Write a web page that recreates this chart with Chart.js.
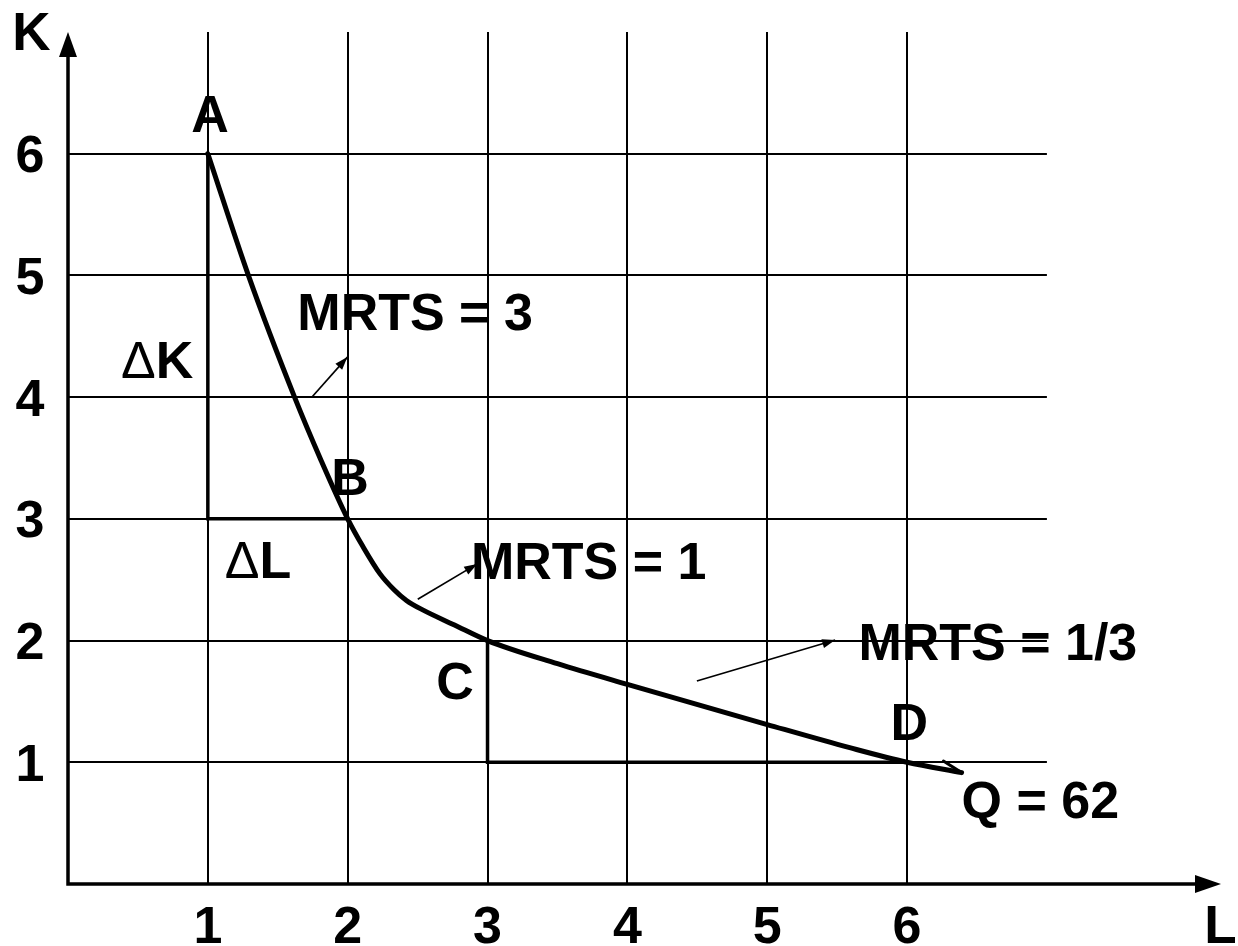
<!DOCTYPE html>
<html>
<head>
<meta charset="utf-8">
<script src="https://cdn.jsdelivr.net/npm/chart.js@4/dist/chart.umd.min.js"></script>
<style>
  html, body { margin: 0; padding: 0; background: #fff; }
</style>
</head>
<body>
<canvas id="grafica" width="1238" height="946"></canvas>
<script>
// Isoquant Q = 62 (L, K)
const curveL = [1, 1.29, 1.62, 1.81, 2, 2.11, 2.23, 2.33, 2.42, 2.54, 2.76, 3, 3.5, 4, 5, 5.59, 6, 6.39];
const curveK = [6, 5, 4.0, 3.48, 3, 2.77, 2.55, 2.42, 2.33, 2.25, 2.13, 2, 1.81, 1.64, 1.31, 1.12, 1, 0.915];

// little hook at the end of the curve
const hookL = [6.39, 6.26];
const hookK = [0.915, 1.01];

// delta K / delta L legs
const legsAB_L = [1, 1, 2];
const legsAB_K = [6, 3, 3];
const legsCD_L = [3, 3, 6];
const legsCD_K = [2, 1, 1];

// tick labels
const tickL = [1, 2, 3, 4, 5, 6];
const tickK = [1, 2, 3, 4, 5, 6];
const gridEndL = 7;
const gridEndK = 7;

// text labels on the chart
const labelTexts = ['A', 'B', 'C', 'D', 'MRTS = 3', 'MRTS = 1', 'MRTS = 1/3', 'Q = 62', 'ΔK', 'ΔL'];

// annotation placement (data coords: centre x, baseline y)
const labelAtL = [1.016, 2.017, 2.768, 6.016, 2.482, 3.723, 6.649, 6.953, 0.637, 1.359];
const labelAtK = [6.181, 3.197, 1.521, 1.184, 4.553, 2.507, 1.841, 0.542, 4.158, 2.515];

// small arrows pointing to the MRTS labels
const arrowFromL = [1.748, 2.501, 4.497];
const arrowFromK = [4.005, 2.34, 1.668];
const arrowToL = [1.998, 2.926, 5.486];
const arrowToK = [4.329, 2.63, 2.005];

const FONT = '"Liberation Sans", Arial, sans-serif';

function toPoints(xs, ys) {
    return xs.map((v, i) => ({ x: v, y: ys[i] }));
}

function arrowHead(ctx, x1, y1, x2, y2, len, half) {
    const a = Math.atan2(y2 - y1, x2 - x1);
    ctx.beginPath();
    ctx.moveTo(x2, y2);
    ctx.lineTo(x2 - len * Math.cos(a) + half * Math.sin(a), y2 - len * Math.sin(a) - half * Math.cos(a));
    ctx.lineTo(x2 - len * Math.cos(a) - half * Math.sin(a), y2 - len * Math.sin(a) + half * Math.cos(a));
    ctx.closePath();
    ctx.fill();
}

// draws a label, the Δ sign in normal weight
function drawLabel(ctx, text, cx, base) {
    ctx.textAlign = 'left';
    ctx.textBaseline = 'alphabetic';
    if (text.startsWith('Δ')) {
        ctx.font = '52px ' + FONT;
        const w1 = ctx.measureText('Δ').width;
        ctx.font = 'bold 52px ' + FONT;
        const w2 = ctx.measureText(text.slice(1)).width;
        let x = cx - (w1 + w2) / 2;
        ctx.font = '52px ' + FONT;
        ctx.fillText('Δ', x, base);
        ctx.font = 'bold 52px ' + FONT;
        ctx.fillText(text.slice(1), x + w1, base);
    } else {
        ctx.font = 'bold 52px ' + FONT;
        ctx.textAlign = 'center';
        ctx.fillText(text, cx, base);
    }
}

const isoquantPlugin = {
    id: 'isoquant',
    beforeDatasetsDraw(chart) {
        const ctx = chart.ctx;
        const sx = chart.scales.x;
        const sy = chart.scales.y;
        ctx.save();
        ctx.strokeStyle = '#000';
        ctx.lineWidth = 2;
        // vertical grid lines
        tickL.forEach(v => {
            const px = Math.round(sx.getPixelForValue(v));
            ctx.beginPath();
            ctx.moveTo(px, sy.getPixelForValue(0));
            ctx.lineTo(px, sy.getPixelForValue(gridEndK));
            ctx.stroke();
        });
        // horizontal grid lines
        tickK.forEach(v => {
            const py = Math.round(sy.getPixelForValue(v));
            ctx.beginPath();
            ctx.moveTo(sx.getPixelForValue(0), py);
            ctx.lineTo(sx.getPixelForValue(gridEndL), py);
            ctx.stroke();
        });
        ctx.restore();
    },
    afterDatasetsDraw(chart) {
        const ctx = chart.ctx;
        const sx = chart.scales.x;
        const sy = chart.scales.y;
        ctx.save();
        ctx.fillStyle = '#000';
        ctx.strokeStyle = '#000';

        // MRTS arrows
        ctx.lineWidth = 1.7;
        arrowFromL.forEach((v, i) => {
            const x1 = sx.getPixelForValue(v), y1 = sy.getPixelForValue(arrowFromK[i]);
            const x2 = sx.getPixelForValue(arrowToL[i]), y2 = sy.getPixelForValue(arrowToK[i]);
            ctx.beginPath();
            ctx.moveTo(x1, y1);
            ctx.lineTo(x2, y2);
            ctx.stroke();
            arrowHead(ctx, x1, y1, x2, y2, 13, 4.5);
        });

        // axes with arrows
        const x0 = sx.getPixelForValue(0), y0 = sy.getPixelForValue(0);
        const xEnd = sx.getPixelForValue(sx.max), yEnd = sy.getPixelForValue(sy.max);
        ctx.lineWidth = 3.5;
        ctx.beginPath();
        ctx.moveTo(x0, yEnd + 20);
        ctx.lineTo(x0, y0);
        ctx.lineTo(xEnd - 20, y0);
        ctx.stroke();
        arrowHead(ctx, x0, y0, x0, yEnd, 25, 9);
        arrowHead(ctx, x0, y0, xEnd, y0, 26, 9);

        // tick labels
        ctx.font = 'bold 52px ' + FONT;
        ctx.textAlign = 'center';
        ctx.textBaseline = 'alphabetic';
        tickL.forEach(v => ctx.fillText(String(v), sx.getPixelForValue(v), 943));
        tickK.forEach(v => ctx.fillText(String(v), 30, sy.getPixelForValue(v) + 18.5));

        // axis titles
        ctx.font = 'bold 53px ' + FONT;
        ctx.fillText('K', 31.5, 50);
        ctx.fillText('L', 1220.5, 943);

        // point and MRTS labels
        labelTexts.forEach((t, i) => {
            drawLabel(ctx, t, sx.getPixelForValue(labelAtL[i]), sy.getPixelForValue(labelAtK[i]));
        });
        ctx.restore();
    }
};

function crearGrafica() {
    const ctx = document.getElementById('grafica').getContext('2d');
    new Chart(ctx, {
        type: 'scatter',
        data: {
            datasets: [
                {
                    data: toPoints(legsAB_L, legsAB_K),
                    showLine: true, borderColor: '#000', borderWidth: 3.5,
                    pointRadius: 0, tension: 0
                },
                {
                    data: toPoints(legsCD_L, legsCD_K),
                    showLine: true, borderColor: '#000', borderWidth: 3.5,
                    pointRadius: 0, tension: 0
                },
                {
                    data: toPoints(curveL, curveK),
                    showLine: true, borderColor: '#000', borderWidth: 5,
                    pointRadius: 0, cubicInterpolationMode: 'monotone',
                    borderCapStyle: 'round', borderJoinStyle: 'round'
                },
                {
                    data: toPoints(hookL, hookK),
                    showLine: true, borderColor: '#000', borderWidth: 3,
                    pointRadius: 0, tension: 0, borderCapStyle: 'round'
                }
            ]
        },
        options: {
            responsive: false,
            animation: false,
            layout: { padding: { left: 68, right: 17, top: 32, bottom: 62 } },
            plugins: { legend: { display: false }, tooltip: { enabled: false } },
            scales: {
                x: { type: 'linear', min: 0, max: 8.245, display: false },
                y: { type: 'linear', min: 0, max: 7, display: false }
            }
        },
        plugins: [isoquantPlugin]
    });
}

crearGrafica();
</script>
</body>
</html>
